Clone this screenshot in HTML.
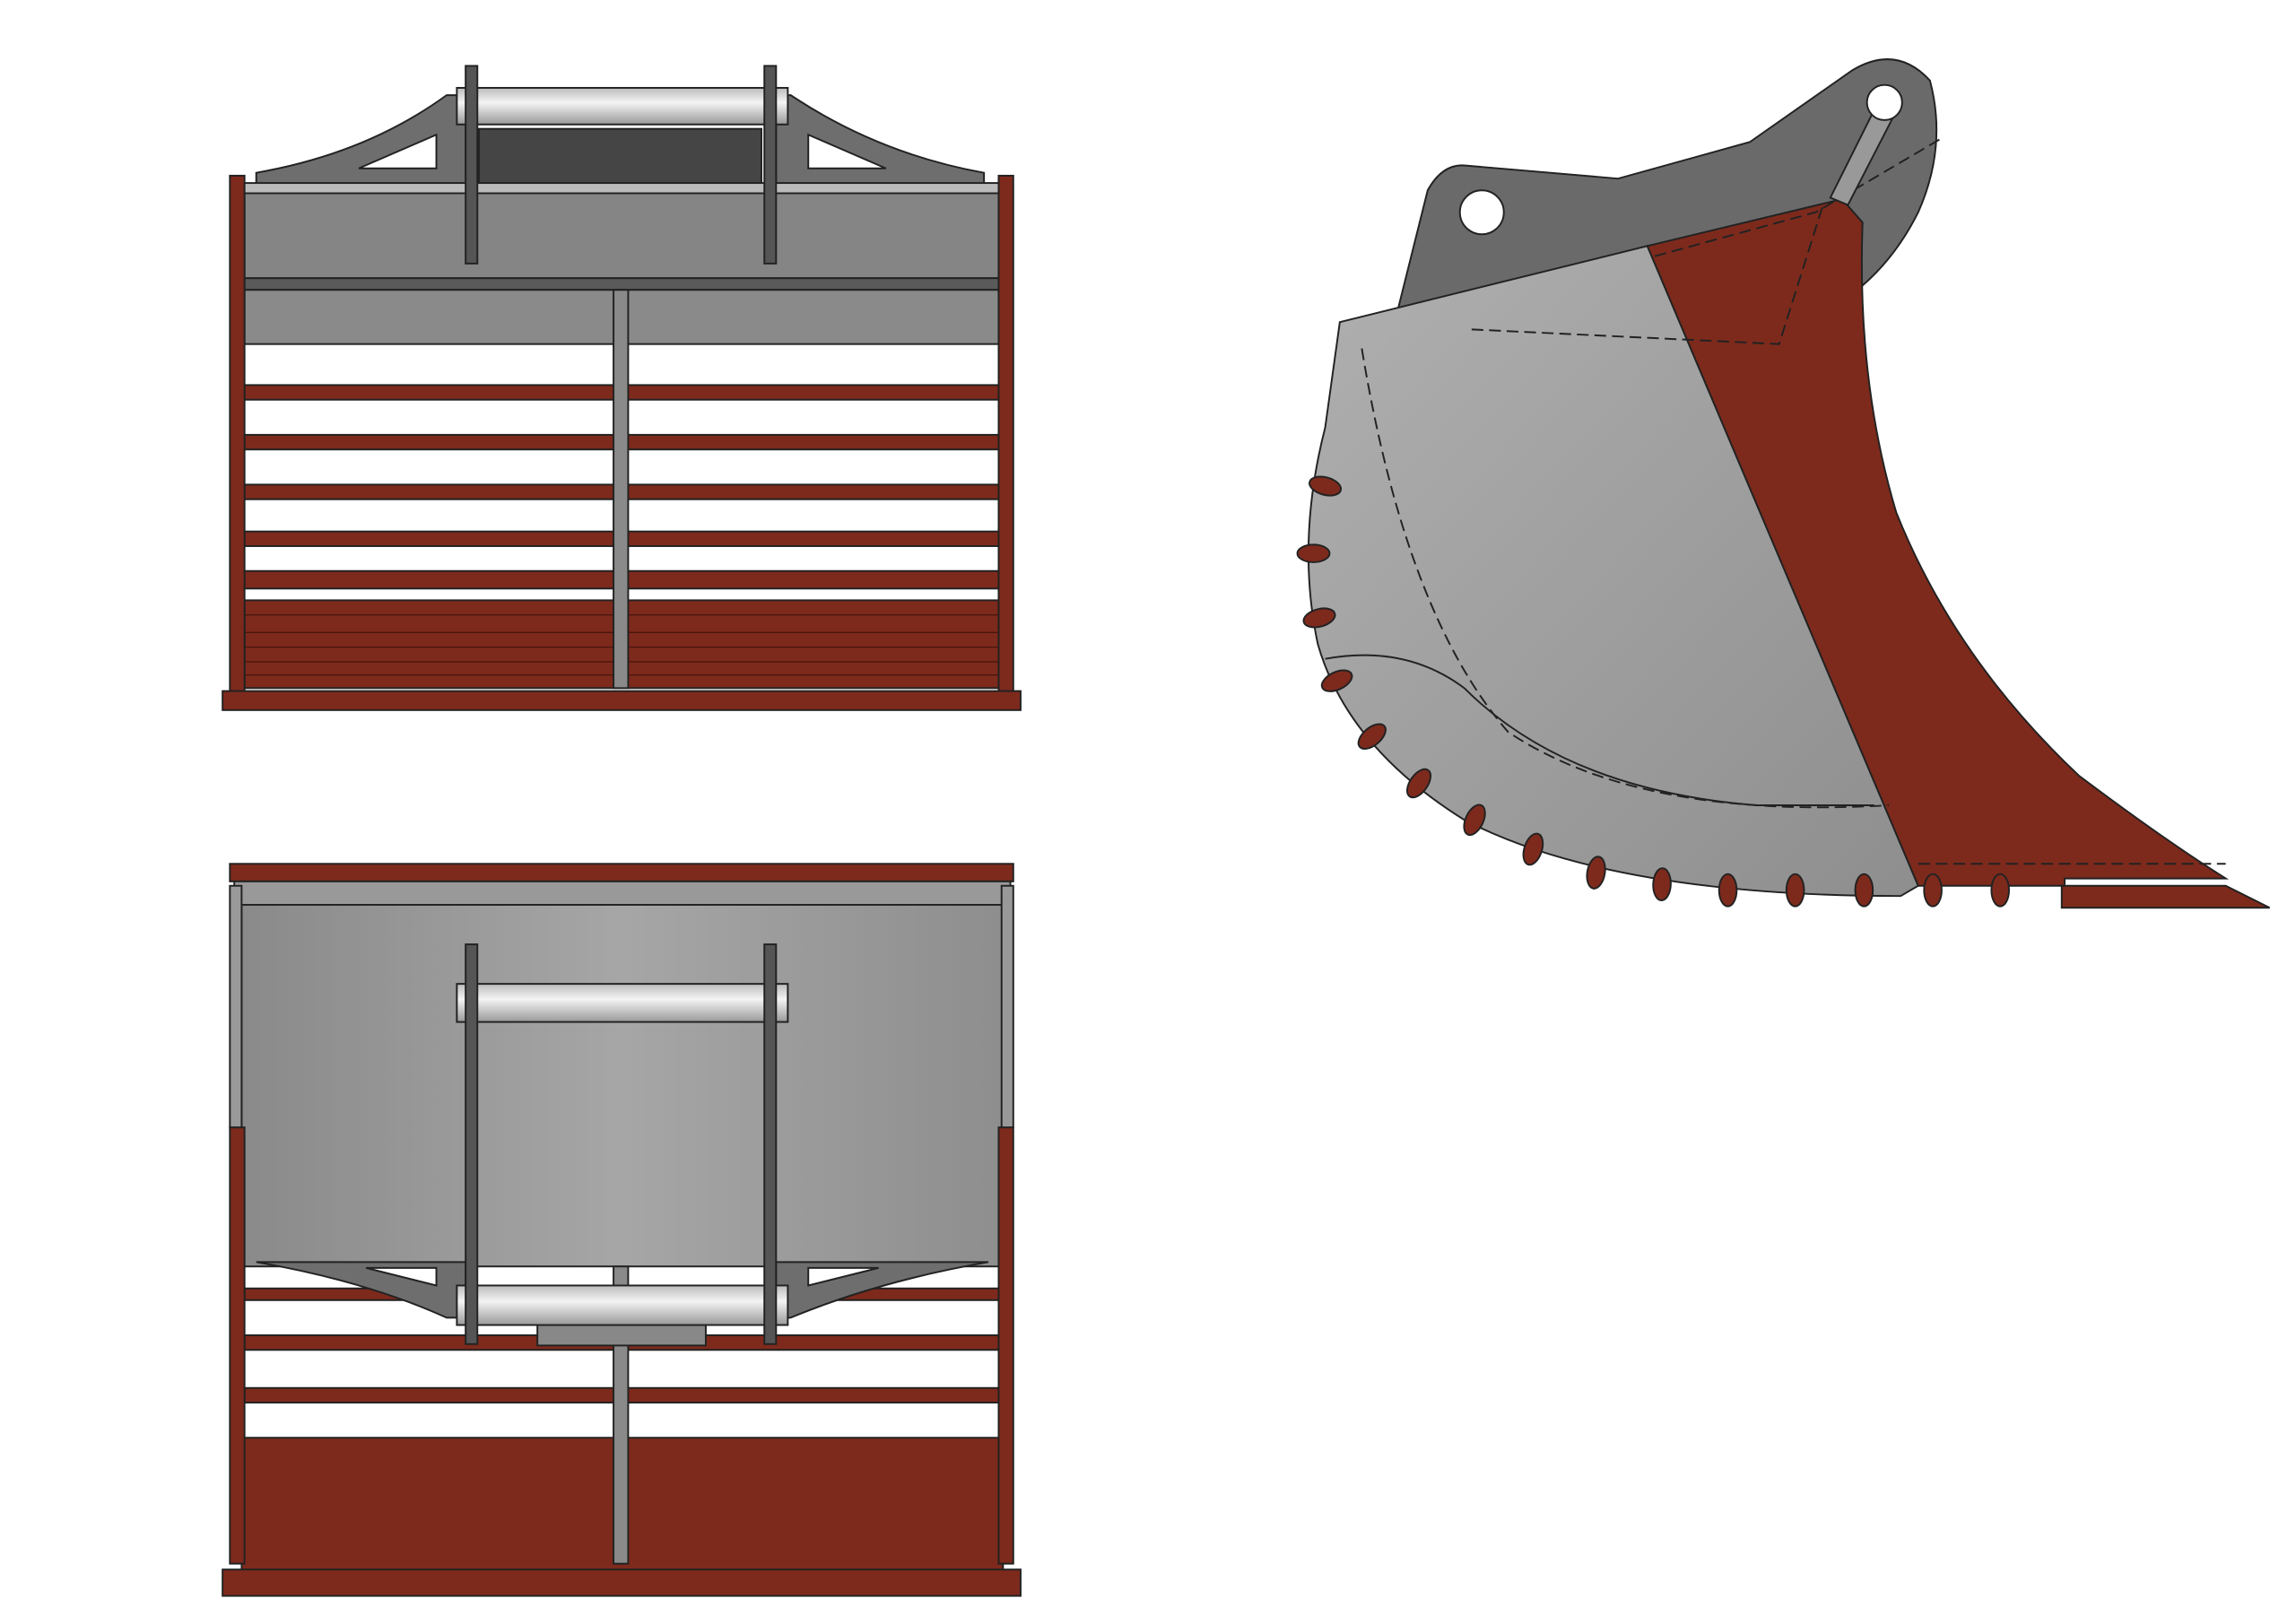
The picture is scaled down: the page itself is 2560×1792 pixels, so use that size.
<!DOCTYPE html>
<html><head><meta charset="utf-8"><style>html,body{margin:0;padding:0;background:#fff}svg{display:block}</style></head>
<body>
<svg width="2560" height="1792" viewBox="0 0 1568 1097.6" xmlns="http://www.w3.org/2000/svg">
<defs>
<linearGradient id="pin" x1="0" y1="0" x2="0" y2="1"><stop offset="0" stop-color="#bbb"/><stop offset=".4" stop-color="#f4f4f4"/><stop offset="1" stop-color="#999"/></linearGradient>
<linearGradient id="pan" x1="0" y1="0" x2="1" y2="0"><stop offset="0" stop-color="#8a8a8a"/><stop offset=".5" stop-color="#a6a6a6"/><stop offset="1" stop-color="#8e8e8e"/></linearGradient>
<linearGradient id="body" x1="0" y1="0" x2="1" y2="1"><stop offset="0" stop-color="#b0b0b0"/><stop offset="1" stop-color="#8e8e8e"/></linearGradient>
</defs>
<g stroke="#222" stroke-width="1.2">
<!-- TOP VIEW -->
<rect x="167" y="128" width="515" height="62" fill="#858585"/>
<rect x="167" y="190" width="515" height="8" fill="#5a5a5a"/>
<rect x="167" y="198" width="515" height="37" fill="#8a8a8a"/>
<g fill="#7d2a1c">
<rect x="167" y="263" width="515" height="10"/><rect x="167" y="297" width="515" height="10"/>
<rect x="167" y="331" width="515" height="10"/><rect x="167" y="363" width="515" height="10"/>
<rect x="167" y="390" width="515" height="12"/><rect x="167" y="410" width="515" height="60"/>
</g>
<g stroke="#4a150d" stroke-width=".8">
<line x1="167" y1="420" x2="682" y2="420"/><line x1="167" y1="432" x2="682" y2="432"/><line x1="167" y1="442" x2="682" y2="442"/><line x1="167" y1="452" x2="682" y2="452"/><line x1="167" y1="461" x2="682" y2="461"/>
</g>
<rect x="157" y="120" width="10" height="352" fill="#7d2a1c"/>
<rect x="682" y="120" width="10" height="352" fill="#7d2a1c"/>
<rect x="152" y="472" width="545" height="13" fill="#7d2a1c"/>
<rect x="419" y="198" width="10" height="272" fill="#8a8a8a"/>
<rect x="327" y="88" width="193" height="42" fill="#454545"/>
<path d="M175,118 Q250,105 305,65 L318,65 L318,128 L175,128 Z" fill="#6e6e6e"/>
<path d="M672,118 Q600,105 540,65 L530,65 L530,128 L672,128 Z" fill="#6e6e6e"/>
<path d="M245,115 L298,92 L298,115 Z" fill="#fff"/>
<path d="M605,115 L552,92 L552,115 Z" fill="#fff"/>
<rect x="167" y="125" width="515" height="7" fill="#bbb"/>
<rect x="312" y="60" width="226" height="25" fill="url(#pin)"/>
<rect x="318" y="45" width="8" height="135" fill="#555"/>
<rect x="522" y="45" width="8" height="135" fill="#555"/>
<!-- BOTTOM VIEW -->
<rect x="165" y="615" width="520" height="250" fill="url(#pan)"/>
<rect x="157" y="590" width="535" height="12" fill="#7d2a1c"/>
<rect x="160" y="602" width="530" height="16" fill="#999"/>
<g fill="#7d2a1c">
<rect x="167" y="880" width="515" height="8"/><rect x="167" y="912" width="515" height="10"/><rect x="167" y="948" width="515" height="10"/>
<rect x="165" y="982" width="520" height="93"/>
</g>
<rect x="157" y="770" width="10" height="298" fill="#7d2a1c"/>
<rect x="682" y="770" width="10" height="298" fill="#7d2a1c"/>
<rect x="157" y="605" width="8" height="165" fill="#999"/>
<rect x="684" y="605" width="8" height="165" fill="#999"/>
<rect x="152" y="1072" width="545" height="18" fill="#7d2a1c"/>
<rect x="419" y="865" width="10" height="203" fill="#8a8a8a"/>
<path d="M175,862 Q250,875 305,900 L318,900 L318,862 Z" fill="#6e6e6e"/>
<path d="M675,862 Q600,875 540,900 L530,900 L530,862 Z" fill="#6e6e6e"/>
<path d="M250,866 L298,866 L298,878 Z" fill="#fff"/>
<path d="M600,866 L552,866 L552,878 Z" fill="#fff"/>
<rect x="367" y="905" width="115" height="14" fill="#888"/>
<rect x="312" y="672" width="226" height="26" fill="url(#pin)"/>
<rect x="312" y="878" width="226" height="27" fill="url(#pin)"/>
<rect x="318" y="645" width="8" height="273" fill="#555"/>
<rect x="522" y="645" width="8" height="273" fill="#555"/>
<!-- SIDE VIEW -->
<path d="M955,210 L975,130 Q985,112 1000,113 L1105,122 L1195,97 L1265,48 Q1295,30 1318,55 Q1330,100 1310,145 Q1295,175 1272,195 L1260,140 L1125,168 L955,212 Z" fill="#6a6a6a"/>
<path d="M915,220 L1125,168 L1310,605 L1298,612 Q1100,612 1000,560 Q920,510 900,440 Q885,370 905,292 Z" fill="url(#body)"/>
<path d="M1125,168 L1258,136 L1272,152 Q1268,260 1295,350 Q1335,450 1420,530 Q1480,575 1520,600 L1410,600 L1410,605 L1310,605 Z" fill="#7d2a1c"/>
<path d="M1408,605 L1520,605 L1550,620 L1408,620 Z" fill="#7d2a1c"/>
<path d="M930,238 Q960,420 1030,500 Q1120,560 1290,550" fill="none" stroke-dasharray="8 4"/>
<path d="M905,450 Q960,440 1000,470 Q1070,540 1200,550 L1280,550" fill="none"/>
<path d="M1005,225 L1215,235 L1245,140" fill="none" stroke-dasharray="8 4"/>
<path d="M1130,175 L1240,145 L1325,95" fill="none" stroke-dasharray="8 4"/>
<path d="M1310,590 L1520,590" fill="none" stroke-dasharray="8 4"/>
<path d="M1250,135 L1285,65 L1297,72 L1262,140 Z" fill="#999"/>
<circle cx="1012" cy="145" r="15" fill="#fff"/>
<circle cx="1287" cy="70" r="12" fill="#fff"/>
<g fill="#7d2a1c">
<ellipse cx="905" cy="332" rx="11" ry="6" transform="rotate(15 905 332)"/>
<ellipse cx="897" cy="378" rx="11" ry="6"/>
<ellipse cx="901" cy="422" rx="11" ry="6" transform="rotate(-15 901 422)"/>
<ellipse cx="913" cy="465" rx="11" ry="6" transform="rotate(-25 913 465)"/>
<ellipse cx="937" cy="503" rx="11" ry="6" transform="rotate(-40 937 503)"/>
<ellipse cx="969" cy="535" rx="11" ry="6" transform="rotate(-55 969 535)"/>
<ellipse cx="1007" cy="560" rx="11" ry="6" transform="rotate(-65 1007 560)"/>
<ellipse cx="1047" cy="580" rx="11" ry="6" transform="rotate(-72 1047 580)"/>
<ellipse cx="1090" cy="596" rx="11" ry="6" transform="rotate(-80 1090 596)"/>
<ellipse cx="1135" cy="604" rx="11" ry="6" transform="rotate(-88 1135 604)"/>
<ellipse cx="1180" cy="608" rx="11" ry="6" transform="rotate(-90 1180 608)"/>
<ellipse cx="1226" cy="608" rx="11" ry="6" transform="rotate(-90 1226 608)"/>
<ellipse cx="1273" cy="608" rx="11" ry="6" transform="rotate(-90 1273 608)"/>
<ellipse cx="1320" cy="608" rx="11" ry="6" transform="rotate(-90 1320 608)"/>
<ellipse cx="1366" cy="608" rx="11" ry="6" transform="rotate(-90 1366 608)"/>
</g>
</g>
</svg>
</body></html>
